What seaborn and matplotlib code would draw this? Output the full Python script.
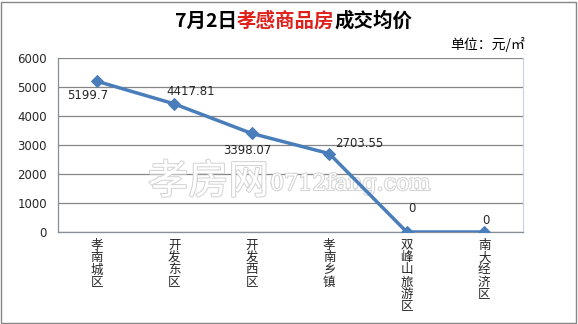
import matplotlib
matplotlib.use("Agg")
import matplotlib.pyplot as plt
import matplotlib.patheffects as pe
from matplotlib.patches import Rectangle
import seaborn as sns
import pandas as pd

categories = ["孝南城区", "开发东区", "开发西区", "孝南乡镇", "双峰山旅游区", "南大经济区"]
prices = [5199.7, 4417.81, 3398.07, 2703.55, 0, 0]
price_labels = ["5199.7", "4417.81", "3398.07", "2703.55", "0", "0"]
yticks = [0, 1000, 2000, 3000, 4000, 5000, 6000]

sns.set_style("white")
plt.rcParams['font.family'] = ['Noto Sans CJK SC', 'DejaVu Sans']

df = pd.DataFrame({"x": list(range(len(categories))), "price": prices})

fig = plt.figure(figsize=(5.78, 3.24), dpi=100)
ax = fig.add_axes([58/578, 1-232/324, (523-58)/578, (232-58)/324])

sns.lineplot(data=df, x="x", y="price", ax=ax, color="#4A7EBB", linewidth=2.5,
             marker="D", markersize=6, markeredgecolor="#4A7EBB", zorder=5)

ax.set_xlim(-0.5, len(categories) - 0.5)
ax.set_ylim(0, 6000)
ax.set_yticks(yticks)
ax.set_yticklabels([str(v) for v in yticks], fontsize=8.5, family=['DejaVu Sans'])
ax.set_xticks(range(len(categories)))
ax.set_xticklabels(["\n".join(c) for c in categories], fontsize=9, linespacing=0.92,
                   va="top")
ax.set_xticks([i - 0.5 for i in range(len(categories) + 1)], minor=True)
ax.tick_params(axis="x", which="major", length=0, pad=5)
ax.tick_params(axis="x", which="minor", length=4, color="#868E96", direction="out")
ax.tick_params(axis="y", length=4, color="#868E96", direction="out", pad=4)
ax.set_xlabel("")
ax.set_ylabel("")
ax.grid(axis="y", color="#868686", linewidth=0.9, zorder=1)
ax.set_axisbelow(True)
ax.spines["top"].set_visible(False)
ax.spines["right"].set_color("#C8D4E4")
ax.spines["left"].set_color("#868E96")
ax.spines["bottom"].set_color("#868E96")
for sp in ax.spines.values():
    sp.set_linewidth(0.9)

# label offsets in points: (dx, dy), alignment
offsets = [(-6.5, -10, "center"), (12, 9, "center"), (-3, -12, "center"),
           (4, 7, "left"), (3.5, 17, "center"), (1.5, 8, "center")]
for i, (v, lab) in enumerate(zip(prices, price_labels)):
    dx, dy, ha = offsets[i]
    ax.annotate(lab, (i, v), xytext=(dx, dy), textcoords="offset points",
                fontsize=8.5, ha=ha, va="center", family=['DejaVu Sans'], zorder=6)

# watermark (above grid, below line)
ax.text(148/578, 1-182/324, "孝房网", fontsize=29, color="white", va="center", ha="left",
        transform=fig.transFigure, zorder=3,
        path_effects=[pe.withStroke(linewidth=1.5, foreground="#D4D4D4")])
ax.text(270/578, 1-184/324, "0712fang.com", fontsize=16, color="white", va="center",
        ha="left", family=['DejaVu Serif'], transform=fig.transFigure, zorder=3,
        path_effects=[pe.withStroke(linewidth=1.5, foreground="#D4D4D4")])

# title (chained pieces)
t0 = fig.text(175/578, 1-21/324, "7月2日", fontsize=14, fontweight="bold", color="black",
              va="center", ha="left")
t1 = plt.annotate("孝感商品房", xy=(1, 0.5), xycoords=t0, fontsize=14, fontweight="bold",
                  color="#E0201B", va="center", ha="left", annotation_clip=False)
t2 = plt.annotate("成交均价", xy=(1, 0.5), xycoords=t1, fontsize=14, fontweight="bold",
                  color="black", va="center", ha="left", annotation_clip=False)
fig.text(450/578, 1-44/324, "单位：元/㎡", fontsize=10, color="black", va="center", ha="left")

# outer border
fig.patches.append(Rectangle((1/578, 1/324), 575/578, 321/324, transform=fig.transFigure,
                             fill=False, edgecolor="#868686", linewidth=1))

fig.savefig("out.png", dpi=100)
